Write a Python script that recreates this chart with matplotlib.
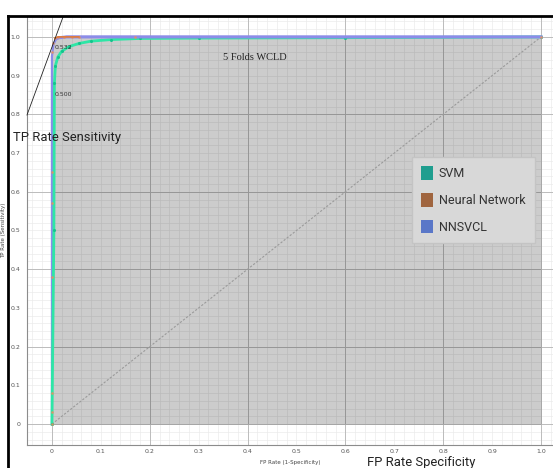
import numpy as np
import matplotlib
matplotlib.use("Agg")
import matplotlib.pyplot as plt
from matplotlib.patches import Patch
from matplotlib.lines import Line2D

# ROC points
svm_fpr = [0.0, 0.004, 0.005, 0.007, 0.012, 0.02, 0.035, 0.055, 0.08, 0.12, 0.18, 0.3, 0.6, 1.0]
svm_tpr = [0.0, 0.50, 0.88, 0.925, 0.948, 0.963, 0.975, 0.983, 0.989, 0.993, 0.996, 0.997, 0.998, 1.0]

nn_fpr = [0.0, 0.0, 0.0, 0.0, 0.0, 0.0, 0.0, 0.002, 0.006, 0.012, 0.025, 0.04, 0.055, 0.17, 1.0]
nn_tpr = [0.0, 0.03, 0.08, 0.38, 0.57, 0.65, 0.96, 0.985, 0.997, 1.0, 1.0, 1.0, 1.0, 1.0, 1.0]

nnsvcl_fpr = [0.0, 0.0, 0.0, 0.003, 0.008, 0.015, 0.03, 1.0]
nnsvcl_tpr = [0.0, 0.5, 0.95, 0.98, 0.993, 0.998, 1.0, 1.0]

thr_labels = ["0.532", "0.500"]
thr_pos = [(0.006, 0.972), (0.006, 0.85)]

tick_vals = [0, 0.1, 0.2, 0.3, 0.4, 0.5, 0.6, 0.7, 0.8, 0.9, 1.0]
tick_text = ["0", "0.1", "0.2", "0.3", "0.4", "0.5", "0.6", "0.7", "0.8", "0.9", "1.0"]

series = ["SVM", "Neural Network", "NNSVCL"]
legend_colors = ["#1f9e8f", "#a0653f", "#5a77c8"]

narrow = ["Roboto", "DejaVu Sans"]

fig = plt.figure(figsize=(5.53, 4.68), dpi=100)
ax = fig.add_axes([27 / 553, 1 - 445 / 468, 1 - 27 / 553, (445 - 16) / 468])
ax.set_xlim(-0.051, 1.0245)
ax.set_ylim(-0.054, 1.054)

# grid: light minor lines, darker every 0.2
ax.set_axisbelow(True)
ax.set_xticks(tick_vals)
ax.set_yticks(tick_vals)
ax.set_xticklabels(tick_text)
ax.set_yticklabels(tick_text)
ax.set_xticks(np.arange(-0.04, 1.03, 0.02), minor=True)
ax.set_yticks(np.arange(-0.04, 1.06, 0.02), minor=True)
ax.grid(which="minor", color="#ebebeb", lw=0.5)
ax.grid(which="major", color="#ebebeb", lw=0.5)
for g in np.arange(0, 1.01, 0.2):
    ax.axvline(g, color="#bcbcbc", lw=0.7, zorder=0.6)
    ax.axhline(g, color="#bcbcbc", lw=0.7, zorder=0.6)
ax.tick_params(which="both", length=0, labelsize=4.5, labelcolor="#555555", pad=5)
ax.tick_params(axis="x", pad=3)

# area under curve
ax.fill_between(nnsvcl_fpr, nnsvcl_tpr, 0, color="black", alpha=0.2, lw=0, zorder=0.8)

ax.plot([0, 1], [0, 1], ls=(0, (2, 1.5)), color="#9a9a9a", lw=0.8, zorder=1)

ax.plot(nnsvcl_fpr, nnsvcl_tpr, color="#8c8ce8", lw=1.6, zorder=2)
ax.plot(svm_fpr, svm_tpr, color="#2ee6a6", lw=2.0, marker="o", ms=1.2,
        mfc="#14c48c", mec="#14c48c", zorder=3)
ax.plot(nn_fpr, nn_tpr, color="#e89060", lw=0, marker="o", ms=1.0, alpha=0.7, zorder=4)
ax.plot(nn_fpr[8:13], nn_tpr[8:13], color="#e07a3a", lw=1.2, zorder=4)
ax.plot(nnsvcl_fpr[5:], nnsvcl_tpr[5:], color="#8c8ce8", lw=2.2, zorder=3.5)

for lab, (px, py) in zip(thr_labels, thr_pos):
    ax.text(px, py, lab, fontsize=4.5, color="#333333", va="center", zorder=5)

ax.text(0.415, 0.946, "5 Folds WCLD", fontsize=7.5, family="Liberation Serif",
        color="#222222", ha="center", va="center")

for s in ["top", "right"]:
    ax.spines[s].set_visible(False)
for s in ["left", "bottom"]:
    ax.spines[s].set_color("#8c8c8c")
    ax.spines[s].set_linewidth(0.8)

ax.set_xlabel("FP Rate (1-Specificity)", fontsize=4, color="#444444", labelpad=4)
ax.set_ylabel("TP Rate (Sensitivity)", fontsize=4, color="#444444", labelpad=3)

handles = [Patch(facecolor=c, edgecolor="none") for c in legend_colors]
leg = fig.legend(handles, series, loc="upper left", bbox_to_anchor=(412 / 553, 1 - 157 / 468),
                 prop={"family": narrow, "size": 9.0}, frameon=True, fancybox=False,
                 facecolor="#d8d8d8", edgecolor="#c4c4c4", framealpha=1,
                 handlelength=0.9, handleheight=1.25, labelspacing=1.05, handletextpad=0.5,
                 borderpad=0.75, borderaxespad=0)
for t in leg.get_texts():
    t.set_color("#333333")

# overlay annotations from the screenshot
fig.text(13 / 553, 1 - 141 / 468, "TP Rate Sensitivity", family=narrow, fontsize=9.4,
         color="#222222", va="baseline", ha="left")
fig.text(367 / 553, 1 - 466 / 468, "FP Rate Specificity", family=narrow, fontsize=9.4,
         color="#222222", va="baseline", ha="left")
fig.add_artist(Line2D([27 / 553, 63 / 553], [1 - 115 / 468, 1 - 17 / 468], color="#222222", lw=0.6))

# screenshot frame
fig.add_artist(Line2D([8 / 553, 1], [1 - 16 / 468, 1 - 16 / 468], color="black", lw=2))
fig.add_artist(Line2D([8 / 553, 8 / 553], [0, 1 - 16 / 468], color="black", lw=2))

fig.savefig("out.png", dpi=100)
